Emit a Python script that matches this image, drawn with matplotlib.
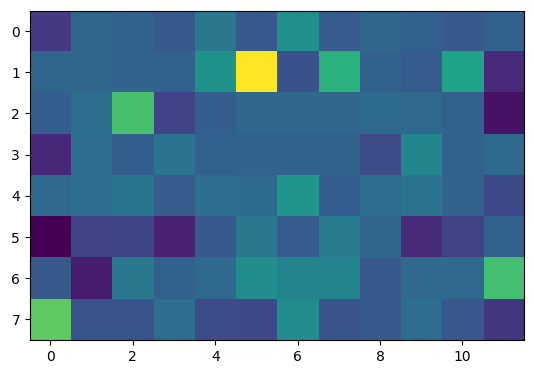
import numpy as np
import matplotlib
matplotlib.use("Agg")
from matplotlib import pyplot as plt

# values (viridis, 0..1)
row0 = [0.17, 0.33, 0.32, 0.28, 0.40, 0.28, 0.50, 0.29, 0.33, 0.31, 0.28, 0.31]
row1 = [0.33, 0.33, 0.32, 0.31, 0.51, 1.00, 0.25, 0.64, 0.31, 0.29, 0.58, 0.12]
row2 = [0.30, 0.36, 0.71, 0.20, 0.30, 0.33, 0.33, 0.33, 0.35, 0.34, 0.31, 0.05]
row3 = [0.11, 0.36, 0.30, 0.38, 0.31, 0.32, 0.32, 0.32, 0.23, 0.46, 0.31, 0.34]
row4 = [0.34, 0.36, 0.39, 0.29, 0.36, 0.35, 0.52, 0.30, 0.36, 0.38, 0.32, 0.22]
row5 = [0.00, 0.20, 0.21, 0.10, 0.28, 0.40, 0.29, 0.41, 0.33, 0.12, 0.20, 0.31]
row6 = [0.28, 0.08, 0.40, 0.31, 0.34, 0.49, 0.45, 0.45, 0.28, 0.34, 0.34, 0.70]
row7 = [0.75, 0.26, 0.26, 0.36, 0.23, 0.22, 0.49, 0.26, 0.28, 0.36, 0.27, 0.16]

data = np.array([row0, row1, row2, row3, row4, row5, row6, row7])

fig = plt.figure(figsize=(5.34, 3.74), dpi=100)
ax = fig.add_axes([29/534, 34/374, 496/534, 329.5/374])
ax.imshow(data, cmap="viridis", vmin=0, vmax=1)
ax.set_xticks(range(0, 12, 2))
ax.set_yticks(range(8))

fig.savefig("out.png", dpi=100)
